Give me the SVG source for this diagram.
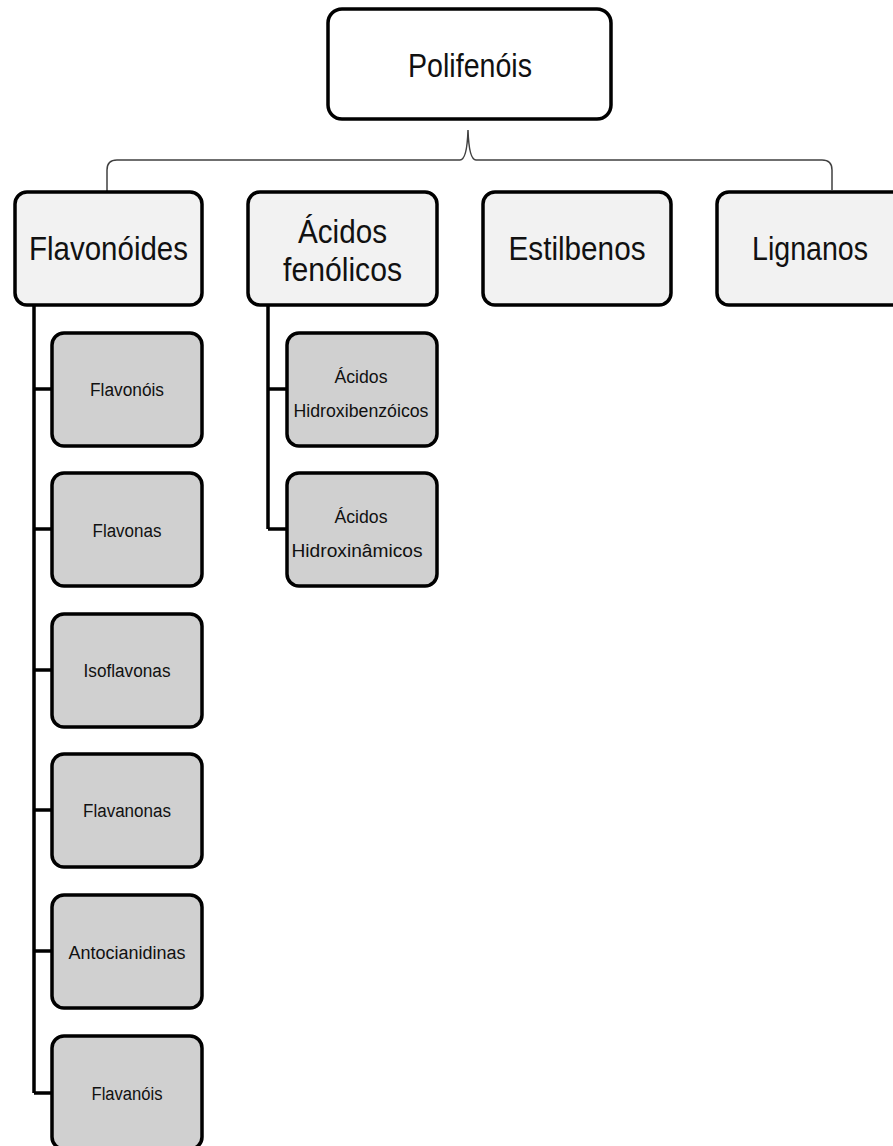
<svg xmlns="http://www.w3.org/2000/svg" width="893" height="1146" viewBox="0 0 893 1146">
<style>
.top{fill:#ffffff;stroke:#000;stroke-width:3.5}
.l1{fill:#f2f2f2;stroke:#000;stroke-width:3.5}
.l2{fill:#d0d0d0;stroke:#000;stroke-width:3.5}
.big{font-family:"Liberation Sans","Open Sans",sans-serif;font-size:33px;fill:#111;text-anchor:middle}
.sm{font-family:"Liberation Sans","Open Sans",sans-serif;font-size:18px;fill:#111;text-anchor:middle}
.con{fill:none;stroke:#000;stroke-width:3.5}
.brace{fill:none;stroke:#404040;stroke-width:1.5}
</style>
<rect width="893" height="1146" fill="#fff"/>
<g id="connectors">
<path class="brace" d="M107,192 L107,170 Q107,160 117,160 L460,160 Q467,160 468,130 Q469,160 476,160 L822,160 Q832,160 832,170 L832,190"/>
<path class="con" d="M34,305 L34,1093 M34,389 L52,389 M34,529 L52,529 M34,670 L52,670 M34,810 L52,810 M34,951 L52,951 M34,1093 L52,1093"/>
<path class="con" d="M268,305 L268,529 M268,389 L287,389 M268,529 L287,529"/>
</g>
<g id="polifenois"><rect class="top" x="328" y="9" width="283" height="110" rx="14"/><text class="big" x="470" y="77" textLength="124" lengthAdjust="spacingAndGlyphs">Polifenóis</text></g>
<g id="flavonoides"><rect class="l1" x="15" y="192" width="187" height="113" rx="12"/><text class="big" x="108.5" y="260" textLength="159" lengthAdjust="spacingAndGlyphs">Flavonóides</text></g>
<g id="acidos-fenolicos"><rect class="l1" x="248" y="192" width="189" height="113" rx="12"/><text class="big" x="342.5" y="243" textLength="89" lengthAdjust="spacingAndGlyphs">Ácidos</text><text class="big" x="342.5" y="281" textLength="119" lengthAdjust="spacingAndGlyphs">fenólicos</text></g>
<g id="estilbenos"><rect class="l1" x="483" y="192" width="188" height="113" rx="12"/><text class="big" x="577" y="260" textLength="137" lengthAdjust="spacingAndGlyphs">Estilbenos</text></g>
<g id="lignanos"><rect class="l1" x="717" y="192" width="190" height="113" rx="12"/><text class="big" x="810" y="260" textLength="116" lengthAdjust="spacingAndGlyphs">Lignanos</text></g>
<g id="flavonois"><rect class="l2" x="52" y="333" width="150" height="113" rx="12"/><text class="sm" x="127" y="396" textLength="74" lengthAdjust="spacingAndGlyphs">Flavonóis</text></g>
<g id="flavonas"><rect class="l2" x="52" y="473" width="150" height="113" rx="12"/><text class="sm" x="127" y="537" textLength="69" lengthAdjust="spacingAndGlyphs">Flavonas</text></g>
<g id="isoflavonas"><rect class="l2" x="52" y="614" width="150" height="113" rx="12"/><text class="sm" x="127" y="677" textLength="87" lengthAdjust="spacingAndGlyphs">Isoflavonas</text></g>
<g id="flavanonas"><rect class="l2" x="52" y="754" width="150" height="113" rx="12"/><text class="sm" x="127" y="817" textLength="88" lengthAdjust="spacingAndGlyphs">Flavanonas</text></g>
<g id="antocianidinas"><rect class="l2" x="52" y="895" width="150" height="113" rx="12"/><text class="sm" x="127" y="959" textLength="117" lengthAdjust="spacingAndGlyphs">Antocianidinas</text></g>
<g id="flavanois"><rect class="l2" x="52" y="1036" width="150" height="113" rx="12"/><text class="sm" x="127" y="1100" textLength="71" lengthAdjust="spacingAndGlyphs">Flavanóis</text></g>
<g id="hidroxibenzoicos"><rect class="l2" x="287" y="333" width="150" height="113" rx="12"/><text class="sm" x="361" y="383" textLength="53" lengthAdjust="spacingAndGlyphs">Ácidos</text><text class="sm" x="361" y="417" textLength="135" lengthAdjust="spacingAndGlyphs">Hidroxibenzóicos</text></g>
<g id="hidroxinamicos"><rect class="l2" x="287" y="473" width="150" height="113" rx="12"/><text class="sm" x="361" y="523" textLength="53" lengthAdjust="spacingAndGlyphs">Ácidos</text><text class="sm" x="357" y="557" textLength="131" lengthAdjust="spacingAndGlyphs">Hidroxinâmicos</text></g>
</svg>
